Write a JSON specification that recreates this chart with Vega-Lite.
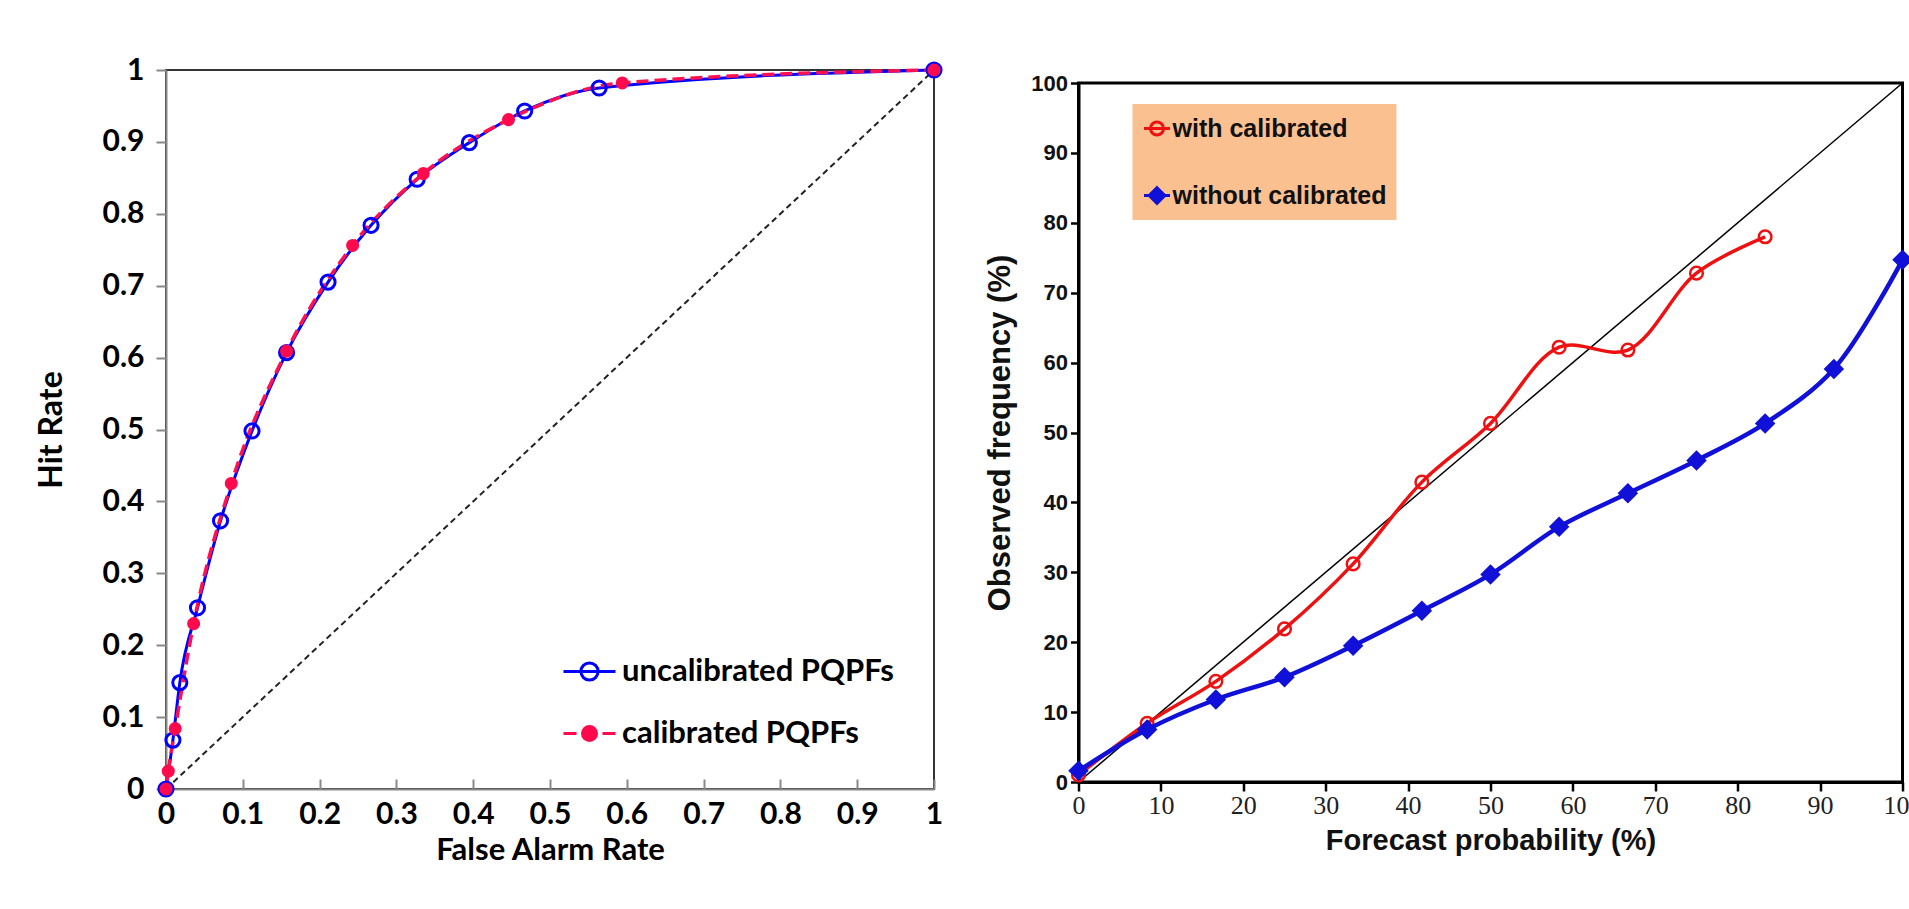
{
  "$schema": "https://vega.github.io/schema/vega-lite/v6.json",
  "background": "white",
  "padding": {"left": 34, "top": 54, "right": 0, "bottom": 4},
  "spacing": 33.5,
  "align": "none",
  "config": {"axis": {"grid": false, "labelOverlap": false, "labelFlush": false}},
  "resolve": {
    "scale": {"shape": "independent", "stroke": "independent", "fill": "independent"},
    "legend": {"shape": "independent", "stroke": "independent", "fill": "independent"}
  },
  "datasets": {
    "roc": [
      {"far": 0, "hit": 0, "series": "uncalibrated PQPFs"},
      {"far": 0.009, "hit": 0.068, "series": "uncalibrated PQPFs"},
      {"far": 0.018, "hit": 0.148, "series": "uncalibrated PQPFs"},
      {"far": 0.041, "hit": 0.252, "series": "uncalibrated PQPFs"},
      {"far": 0.071, "hit": 0.373, "series": "uncalibrated PQPFs"},
      {"far": 0.112, "hit": 0.498, "series": "uncalibrated PQPFs"},
      {"far": 0.157, "hit": 0.607, "series": "uncalibrated PQPFs"},
      {"far": 0.211, "hit": 0.705, "series": "uncalibrated PQPFs"},
      {"far": 0.267, "hit": 0.784, "series": "uncalibrated PQPFs"},
      {"far": 0.327, "hit": 0.848, "series": "uncalibrated PQPFs"},
      {"far": 0.395, "hit": 0.899, "series": "uncalibrated PQPFs"},
      {"far": 0.467, "hit": 0.943, "series": "uncalibrated PQPFs"},
      {"far": 0.564, "hit": 0.975, "series": "uncalibrated PQPFs"},
      {"far": 1, "hit": 1, "series": "uncalibrated PQPFs"},
      {"far": 0, "hit": 0, "series": "calibrated PQPFs"},
      {"far": 0.003, "hit": 0.025, "series": "calibrated PQPFs"},
      {"far": 0.012, "hit": 0.084, "series": "calibrated PQPFs"},
      {"far": 0.036, "hit": 0.23, "series": "calibrated PQPFs"},
      {"far": 0.085, "hit": 0.425, "series": "calibrated PQPFs"},
      {"far": 0.157, "hit": 0.609, "series": "calibrated PQPFs"},
      {"far": 0.243, "hit": 0.756, "series": "calibrated PQPFs"},
      {"far": 0.335, "hit": 0.856, "series": "calibrated PQPFs"},
      {"far": 0.446, "hit": 0.931, "series": "calibrated PQPFs"},
      {"far": 0.594, "hit": 0.982, "series": "calibrated PQPFs"},
      {"far": 1, "hit": 1, "series": "calibrated PQPFs"}
    ],
    "roc_diag": [{"far": 0, "hit": 0}, {"far": 1, "hit": 1}],
    "rel": [
      {"prob": 0, "obs": 1.0, "group": "with calibrated"},
      {"prob": 8.33, "obs": 8.4, "group": "with calibrated"},
      {"prob": 16.67, "obs": 14.4, "group": "with calibrated"},
      {"prob": 25, "obs": 21.9, "group": "with calibrated"},
      {"prob": 33.33, "obs": 31.2, "group": "with calibrated"},
      {"prob": 41.67, "obs": 42.9, "group": "with calibrated"},
      {"prob": 50, "obs": 51.3, "group": "with calibrated"},
      {"prob": 58.33, "obs": 62.2, "group": "with calibrated"},
      {"prob": 66.67, "obs": 61.8, "group": "with calibrated"},
      {"prob": 75, "obs": 72.8, "group": "with calibrated"},
      {"prob": 83.33, "obs": 78.0, "group": "with calibrated"},
      {"prob": 0, "obs": 1.6, "group": "without calibrated"},
      {"prob": 8.33, "obs": 7.5, "group": "without calibrated"},
      {"prob": 16.67, "obs": 11.8, "group": "without calibrated"},
      {"prob": 25, "obs": 15.0, "group": "without calibrated"},
      {"prob": 33.33, "obs": 19.5, "group": "without calibrated"},
      {"prob": 41.67, "obs": 24.5, "group": "without calibrated"},
      {"prob": 50, "obs": 29.7, "group": "without calibrated"},
      {"prob": 58.33, "obs": 36.5, "group": "without calibrated"},
      {"prob": 66.67, "obs": 41.3, "group": "without calibrated"},
      {"prob": 75, "obs": 46.0, "group": "without calibrated"},
      {"prob": 83.33, "obs": 51.3, "group": "without calibrated"},
      {"prob": 91.67, "obs": 59.1, "group": "without calibrated"},
      {"prob": 100, "obs": 74.7, "group": "without calibrated"}
    ],
    "rel_diag": [{"prob": 0, "obs": 0}, {"prob": 100, "obs": 100}],
    "empty": []
  },
  "hconcat": [
    {
      "width": 768,
      "height": 719,
      "view": {"stroke": "#333333", "strokeWidth": 2},
      "encoding": {
        "x": {
          "field": "far", "type": "quantitative",
          "scale": {"domain": [0, 1], "nice": false, "zero": false},
          "axis": {
            "title": "False Alarm Rate",
            "values": [0, 0.1, 0.2, 0.3, 0.4, 0.5, 0.6, 0.7, 0.8, 0.9, 1],
            "format": "~g",
            "domainColor": "#888888", "domainWidth": 2,
            "tickColor": "#888888", "tickWidth": 2, "tickSize": -10,
            "labelPadding": 20, "labelBaseline": "top", "labelAlign": "center",
            "labelFont": "Lato", "labelFontWeight": "bold", "labelFontSize": 30, "labelColor": "black",
            "titleFont": "Lato", "titleFontWeight": "bold", "titleFontSize": 31, "titleColor": "black",
            "titlePadding": 6
          }
        },
        "y": {
          "field": "hit", "type": "quantitative",
          "scale": {"domain": [0, 1], "nice": false, "zero": false},
          "axis": {
            "title": "Hit Rate",
            "values": [0, 0.1, 0.2, 0.3, 0.4, 0.5, 0.6, 0.7, 0.8, 0.9, 1],
            "format": "~g",
            "domainColor": "#888888", "domainWidth": 2,
            "tickColor": "#888888", "tickWidth": 2, "tickSize": 10,
            "labelPadding": 12,
            "labelFont": "Lato", "labelFontWeight": "bold", "labelFontSize": 30, "labelColor": "black",
            "titleFont": "Lato", "titleFontWeight": "bold", "titleFontSize": 32, "titleColor": "black",
            "titlePadding": 34
          }
        }
      },
      "layer": [
        {
          "data": {"name": "roc_diag"},
          "mark": {"type": "line", "color": "#222222", "strokeWidth": 2, "strokeDash": [6, 4]}
        },
        {
          "data": {"name": "roc"},
          "transform": [{"filter": "datum.series === 'uncalibrated PQPFs'"}],
          "mark": {"type": "line", "color": "#0000ff", "strokeWidth": 3, "interpolate": "monotone"}
        },
        {
          "data": {"name": "roc"},
          "transform": [{"filter": "datum.series === 'calibrated PQPFs'"}],
          "mark": {"type": "line", "color": "#ff1050", "strokeWidth": 3.5, "strokeDash": [12, 6], "interpolate": "monotone"}
        },
        {
          "data": {"name": "roc"},
          "transform": [{"filter": "datum.series === 'uncalibrated PQPFs'"}],
          "mark": {"type": "point", "shape": "circle", "filled": false, "color": "#0000ff", "size": 200, "strokeWidth": 3, "opacity": 1}
        },
        {
          "data": {"name": "roc"},
          "transform": [{"filter": "datum.series === 'calibrated PQPFs'"}],
          "mark": {"type": "point", "shape": "circle", "filled": true, "color": "#ff0a4c", "size": 170, "opacity": 1}
        },
        {
          "data": {"name": "roc"},
          "mark": {"type": "point", "filled": true, "opacity": 0},
          "encoding": {
            "shape": {
              "field": "series", "type": "nominal",
              "scale": {"domain": ["uncalibrated PQPFs", "calibrated PQPFs"],
                        "range": ["M-1,0H1M0.33,0A0.33,0.33,0,1,1,-0.33,0A0.33,0.33,0,1,1,0.33,0",
                                  "M-1,0H-0.5M0.5,0H1M0.27,0A0.27,0.27,0,1,1,-0.27,0A0.27,0.27,0,1,1,0.27,0"]},
              "legend": {"title": null, "orient": "none", "legendX": 396, "legendY": 574, "symbolSize": 2704, "symbolStrokeWidth": 3, "symbolOpacity": 1, "labelFont": "Lato", "labelFontWeight": "bold", "labelFontSize": 31, "labelColor": "black", "rowPadding": 19, "labelOffset": 5, "padding": 0, "labelLimit": 600}
            },
            "stroke": {
              "field": "series", "type": "nominal",
              "scale": {"domain": ["uncalibrated PQPFs", "calibrated PQPFs"], "range": ["#0000ff", "#ff0a4c"]},
              "legend": {"title": null, "orient": "none", "legendX": 396, "legendY": 574, "symbolSize": 2704, "symbolStrokeWidth": 3, "symbolOpacity": 1, "labelFont": "Lato", "labelFontWeight": "bold", "labelFontSize": 31, "labelColor": "black", "rowPadding": 19, "labelOffset": 5, "padding": 0, "labelLimit": 600}
            },
            "fill": {
              "field": "series", "type": "nominal",
              "scale": {"domain": ["uncalibrated PQPFs", "calibrated PQPFs"], "range": ["transparent", "#ff0a4c"]},
              "legend": {"title": null, "orient": "none", "legendX": 396, "legendY": 574, "symbolSize": 2704, "symbolStrokeWidth": 3, "symbolOpacity": 1, "labelFont": "Lato", "labelFontWeight": "bold", "labelFontSize": 31, "labelColor": "black", "rowPadding": 19, "labelOffset": 5, "padding": 0, "labelLimit": 600}
            }
          }
        }
      ]
    },
    {
      "spacing": -1,
      "vconcat": [
        {
          "width": 10,
          "height": 1,
          "view": {"stroke": null},
          "data": {"name": "empty"},
          "mark": {"type": "text"},
          "encoding": {}
        },
        {
          "width": 824,
          "height": 699,
          "view": {"stroke": "black", "strokeWidth": 3},
          "encoding": {
            "x": {
              "field": "prob", "type": "quantitative",
              "scale": {"domain": [0, 100], "nice": false, "zero": false},
              "axis": {
                "title": "Forecast probability (%)",
                "values": [0, 10, 20, 30, 40, 50, 60, 70, 80, 90, 100],
                "domainColor": "black", "domainWidth": 3,
                "tickColor": "black", "tickWidth": 2.5, "tickSize": 9,
                "labelPadding": 1,
                "labelFont": "Liberation Serif", "labelFontWeight": "normal", "labelFontSize": 26, "labelColor": "#222222",
                "titleFont": "Liberation Sans", "titleFontWeight": "bold", "titleFontSize": 29, "titleColor": "#111111",
                "titlePadding": 8
              }
            },
            "y": {
              "field": "obs", "type": "quantitative",
              "scale": {"domain": [0, 100], "nice": false, "zero": false},
              "axis": {
                "title": "Observed frequency (%)",
                "values": [0, 10, 20, 30, 40, 50, 60, 70, 80, 90, 100],
                "domainColor": "black", "domainWidth": 3,
                "tickColor": "black", "tickWidth": 2.5, "tickSize": 8,
                "labelPadding": 3,
                "labelFont": "Liberation Sans", "labelFontWeight": "bold", "labelFontSize": 22, "labelColor": "#111111",
                "titleFont": "Liberation Sans", "titleFontWeight": "bold", "titleFontSize": 31, "titleColor": "#111111",
                "titlePadding": 14.5
              }
            }
          },
          "layer": [
            {
              "data": {"name": "rel_diag"},
              "mark": {"type": "line", "color": "black", "strokeWidth": 1.5}
            },
            {
              "data": {"name": "rel"},
              "transform": [{"filter": "datum.group === 'with calibrated'"}],
              "mark": {"type": "line", "color": "#ee1111", "strokeWidth": 3.5, "interpolate": "catmull-rom"}
            },
            {
              "data": {"name": "rel"},
              "transform": [{"filter": "datum.group === 'with calibrated'"}],
              "mark": {"type": "point", "shape": "circle", "filled": false, "color": "#ee1111", "size": 160, "strokeWidth": 2.5, "opacity": 1}
            },
            {
              "data": {"name": "rel"},
              "transform": [{"filter": "datum.group === 'without calibrated'"}],
              "mark": {"type": "line", "color": "#1010d8", "strokeWidth": 4.5, "interpolate": "catmull-rom"}
            },
            {
              "data": {"name": "rel"},
              "transform": [{"filter": "datum.group === 'without calibrated'"}],
              "mark": {"type": "point", "shape": "diamond", "filled": true, "color": "#1010d8", "size": 420, "opacity": 1}
            },
            {
              "data": {"name": "rel"},
              "mark": {"type": "point", "filled": true, "opacity": 0},
              "encoding": {
                "shape": {
                  "field": "group", "type": "nominal",
                  "scale": {"domain": ["with calibrated", "without calibrated"],
                            "range": ["M-1,0H1M0.5,0A0.5,0.5,0,1,1,-0.5,0A0.5,0.5,0,1,1,0.5,0",
                                      "M-1,0H1M0,-0.6L0.6,0L0,0.6L-0.6,0Z"]},
                  "legend": {"title": null, "orient": "none", "legendX": 54, "legendY": 34, "fillColor": "#fac090", "padding": 10, "symbolSize": 676, "symbolStrokeWidth": 3, "symbolOpacity": 1, "labelFont": "Liberation Sans", "labelFontWeight": "bold", "labelFontSize": 25, "labelColor": "#111111", "rowPadding": 39, "labelOffset": 1, "labelLimit": 600}
                },
                "stroke": {
                  "field": "group", "type": "nominal",
                  "scale": {"domain": ["with calibrated", "without calibrated"], "range": ["#ee1111", "#1010d8"]},
                  "legend": {"title": null, "orient": "none", "legendX": 54, "legendY": 34, "fillColor": "#fac090", "padding": 10, "symbolSize": 676, "symbolStrokeWidth": 3, "symbolOpacity": 1, "labelFont": "Liberation Sans", "labelFontWeight": "bold", "labelFontSize": 25, "labelColor": "#111111", "rowPadding": 39, "labelOffset": 1, "labelLimit": 600}
                },
                "fill": {
                  "field": "group", "type": "nominal",
                  "scale": {"domain": ["with calibrated", "without calibrated"], "range": ["transparent", "#1010d8"]},
                  "legend": {"title": null, "orient": "none", "legendX": 54, "legendY": 34, "fillColor": "#fac090", "padding": 10, "symbolSize": 676, "symbolStrokeWidth": 3, "symbolOpacity": 1, "labelFont": "Liberation Sans", "labelFontWeight": "bold", "labelFontSize": 25, "labelColor": "#111111", "rowPadding": 39, "labelOffset": 1, "labelLimit": 600}
                }
              }
            }
          ]
        }
      ]
    }
  ]
}
